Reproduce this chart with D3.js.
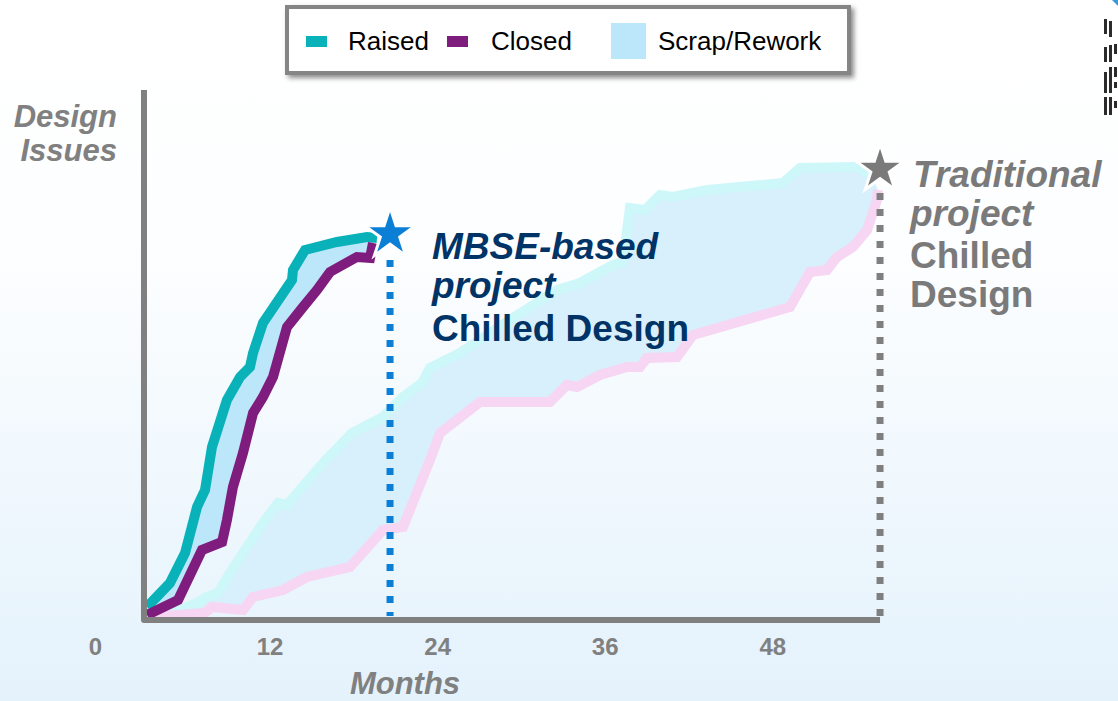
<!DOCTYPE html>
<html><head><meta charset="utf-8">
<script src="https://cdn.jsdelivr.net/npm/d3@7"></script>
<style>html,body{margin:0;padding:0;overflow:hidden;background:#fff}svg{display:block;font-family:"Liberation Sans",Arial,Helvetica,sans-serif}</style>
</head><body><svg id="chart" width="1118" height="701"></svg>
<script>
// ---- data (months, design issues in relative units) ----
const tickMonths = [0, 12, 24, 36, 48];
const legendLabels = ["Raised", "Closed", "Scrap/Rework"];

const mbseRaisedMonths = [3.37, 5.01, 6.09, 6.95, 7.52, 8.02, 9.09, 10.03, 10.74, 10.96, 11.67, 13.75, 13.82, 14.68, 16.97, 19.12, 19.84];
const mbseRaisedValues = [2.6, 7.4, 13.4, 22.6, 26.0, 34.6, 44.0, 48.6, 50.6, 53.4, 59.4, 68.0, 70.0, 74.0, 75.6, 76.6, 76.4];

const mbseClosedMonths = [3.37, 5.59, 7.30, 8.74, 9.09, 9.52, 10.24, 10.96, 11.67, 12.39, 13.39, 14.54, 15.54, 16.47, 18.40, 19.34, 19.55];
const mbseClosedValues = [1.0, 4.0, 14.0, 15.6, 20.0, 26.6, 33.4, 41.4, 44.6, 48.6, 58.6, 62.6, 66.0, 69.6, 72.6, 72.4, 75.4];

const tradRaisedMonths = [3.58, 5.23, 6.95, 7.66, 8.45, 9.31, 10.53, 11.67, 12.75, 13.39, 15.97, 18.05, 20.27, 21.70, 23.06, 23.63, 25.78, 29.36, 32.73, 34.37, 36.74, 37.45, 37.95, 39.03, 40.10, 41.03, 43.47, 48.91, 50.13, 54.21, 55.28];
const tradRaisedValues = [1.0, 1.4, 3.4, 4.6, 5.4, 9.4, 14.6, 19.4, 23.4, 23.0, 31.4, 37.4, 40.6, 44.6, 47.4, 50.4, 53.4, 60.0, 66.0, 67.4, 71.0, 71.6, 82.4, 82.0, 85.0, 84.6, 86.0, 87.4, 90.4, 90.6, 89.0];

const tradClosedMonths = [3.58, 7.52, 8.02, 10.24, 10.96, 13.10, 14.82, 17.90, 20.27, 21.70, 23.63, 24.35, 27.21, 32.22, 33.44, 34.16, 35.81, 37.74, 38.67, 39.17, 41.32, 42.47, 49.41, 50.84, 52.06, 52.78, 53.92, 54.93, 55.64, 55.71];
const tradClosedValues = [0.6, 1.4, 2.6, 2.0, 4.6, 6.0, 8.6, 10.6, 18.0, 18.6, 32.0, 37.4, 43.6, 43.6, 47.0, 46.6, 49.0, 50.6, 50.6, 52.4, 52.6, 57.0, 62.6, 69.6, 70.0, 72.6, 74.6, 78.0, 84.0, 86.0];

const mbseChill = {month: 20.77, value: 77.2};
const tradChill = {month: 55.86, value: 90.2};
const axisStartMonth = 3.15;
const axisTopValue = 106;

// ---- setup ----
const W = 1118, H = 701;
const svg = d3.select("#chart");
const x = d3.scaleLinear().domain([0, 56]).range([100, 882]);
const y = d3.scaleLinear().domain([0, 100]).range([620, 120]);

const defs = svg.append("defs");
const bg = defs.append("linearGradient").attr("id", "bg").attr("x1", 0).attr("y1", 0).attr("x2", 0).attr("y2", 1);
bg.append("stop").attr("offset", "0%").attr("stop-color", "#ffffff");
bg.append("stop").attr("offset", "35%").attr("stop-color", "#fdfeff");
bg.append("stop").attr("offset", "100%").attr("stop-color", "#e4f2fc");
const sh = defs.append("filter").attr("id", "shadow").attr("x", "-5%").attr("y", "-20%").attr("width", "115%").attr("height", "150%");
sh.append("feDropShadow").attr("dx", 3).attr("dy", 3).attr("stdDeviation", 2.5).attr("flood-color", "#000").attr("flood-opacity", 0.45);

svg.append("rect").attr("width", W).attr("height", H).attr("fill", "url(#bg)");

const zip = (ms, vs) => ms.map((m, i) => ({m, v: vs[i]}));
const mbseRaised = zip(mbseRaisedMonths, mbseRaisedValues);
const mbseClosed = zip(mbseClosedMonths, mbseClosedValues);
const tradRaised = zip(tradRaisedMonths, tradRaisedValues);
const tradClosed = zip(tradClosedMonths, tradClosedValues);

const line = d3.line().x(d => x(d.m)).y(d => y(d.v));
const band = (a, b) => line(a.concat(b.slice().reverse())) + "Z";

// traditional project
svg.append("path").attr("d", band(tradRaised, tradClosed)).attr("fill", "#d8effc");
svg.append("path").attr("d", line(tradRaised)).attr("fill", "none").attr("stroke", "#cdf7f9").attr("stroke-width", 10).attr("stroke-linejoin", "miter");
svg.append("path").attr("d", line(tradClosed)).attr("fill", "none").attr("stroke", "#f6d6f2").attr("stroke-width", 10).attr("stroke-linejoin", "miter");

// MBSE project
svg.append("path").attr("d", band(mbseRaised, mbseClosed)).attr("fill", "#bce6f9");
svg.append("path").attr("d", line(mbseRaised)).attr("fill", "none").attr("stroke", "#09b1b8").attr("stroke-width", 10).attr("stroke-linejoin", "miter");
svg.append("path").attr("d", line(mbseClosed)).attr("fill", "none").attr("stroke", "#7f1d7e").attr("stroke-width", 10).attr("stroke-linejoin", "miter");

// dotted drop lines
svg.append("line").attr("x1", x(mbseChill.month)).attr("x2", x(mbseChill.month))
  .attr("y1", y(mbseChill.value) + 26).attr("y2", y(0) - 4)
  .attr("stroke", "#0b7fd6").attr("stroke-width", 7).attr("stroke-dasharray", "7 9");
svg.append("line").attr("x1", x(tradChill.month)).attr("x2", x(tradChill.month))
  .attr("y1", y(tradChill.value) + 24).attr("y2", y(0) - 4)
  .attr("stroke", "#7f7f7f").attr("stroke-width", 7).attr("stroke-dasharray", "7 9");

// stars
const star = d3.symbol().type(d3.symbolStar);
svg.append("path").attr("d", star.size(800)()).attr("transform", `translate(${x(mbseChill.month)},${y(mbseChill.value)})`)
  .attr("fill", "#0b7fd6").attr("stroke", "#fff").attr("stroke-width", 3);
svg.append("path").attr("d", star.size(720)()).attr("transform", `translate(${x(tradChill.month)},${y(tradChill.value)})`)
  .attr("fill", "#7a7a7a").attr("stroke", "#fff").attr("stroke-width", 3);

// axes
const axisCol = "#808080";
svg.append("path")
  .attr("d", `M${x(axisStartMonth)},${y(axisTopValue)}V${y(0)}H${x(tradChill.month)}`)
  .attr("fill", "none").attr("stroke", axisCol).attr("stroke-width", 6).attr("stroke-linejoin", "round");

const xAxis = svg.append("g").attr("transform", `translate(0,${y(0) + 8})`)
  .call(d3.axisBottom(x).tickValues(tickMonths).tickSize(0).tickPadding(10).tickFormat(d3.format("d")));
xAxis.select(".domain").remove();
xAxis.selectAll("text").attr("fill", axisCol).attr("font-size", 24).attr("font-weight", "bold")
  .attr("font-family", "'Liberation Sans',Arial,sans-serif").attr("dx", d => d === 0 ? -5 : 2);

svg.append("text").attr("x", 405).attr("y", 694).attr("text-anchor", "middle")
  .attr("fill", axisCol).attr("font-size", 31).attr("font-weight", "bold").attr("font-style", "italic").text("Months");
const yl = svg.append("text").attr("text-anchor", "end").attr("fill", axisCol)
  .attr("font-size", 31).attr("font-weight", "bold").attr("font-style", "italic");
yl.append("tspan").attr("x", 117).attr("y", 127).text("Design");
yl.append("tspan").attr("x", 117).attr("y", 161).text("Issues");

// annotations
const mt = svg.append("g").attr("fill", "#003366").attr("font-weight", "bold");
mt.append("text").attr("x", 432).attr("y", 259).attr("font-size", 37).attr("font-style", "italic").text("MBSE-based");
mt.append("text").attr("x", 432).attr("y", 298).attr("font-size", 37).attr("font-style", "italic").text("project");
mt.append("text").attr("x", 432).attr("y", 341).attr("font-size", 37).text("Chilled Design");

const tt = svg.append("g").attr("fill", "#7a7a7a").attr("font-weight", "bold");
tt.append("text").attr("x", 913).attr("y", 187).attr("font-size", 37).attr("font-style", "italic").text("Traditional");
tt.append("text").attr("x", 910).attr("y", 226).attr("font-size", 37).attr("font-style", "italic").text("project");
tt.append("text").attr("x", 910).attr("y", 268).attr("font-size", 37).text("Chilled");
tt.append("text").attr("x", 910).attr("y", 307).attr("font-size", 37).text("Design");

// legend
const lg = svg.append("g");
lg.append("rect").attr("x", 287).attr("y", 7).attr("width", 562).attr("height", 66)
  .attr("fill", "#fff").attr("stroke", "#858585").attr("stroke-width", 4).attr("filter", "url(#shadow)");
const legendItems = [
  {label: legendLabels[0], color: "#09b1b8", sx: 306, sy: 36, sw: 21, sh: 11, tx: 348},
  {label: legendLabels[1], color: "#7f1d7e", sx: 447, sy: 36, sw: 21, sh: 11, tx: 491},
  {label: legendLabels[2], color: "#bce6f9", sx: 611, sy: 23, sw: 35, sh: 36, tx: 658}
];
legendItems.forEach(it => {
  lg.append("rect").attr("x", it.sx).attr("y", it.sy).attr("width", it.sw).attr("height", it.sh).attr("fill", it.color);
  lg.append("text").attr("x", it.tx).attr("y", 50).attr("font-size", 26).attr("fill", "#000").text(it.label);
});

// partial logo at top right (decoration)
const logoBars = [
  [1104, 19, 3, 15], [1109, 21, 3, 16], [1104, 47, 3, 15], [1109, 45, 3, 17], [1114, 44, 3, 10],
  [1104, 72, 3, 21], [1109, 67, 3, 26], [1114, 67, 3, 10], [1114, 82, 3, 6],
  [1104, 97, 3, 18], [1109, 97, 3, 18], [1114, 101, 3, 7]
];
svg.append("g").selectAll("rect").data(logoBars).join("rect")
  .attr("x", d => d[0]).attr("y", d => d[1]).attr("width", d => d[2]).attr("height", d => d[3]).attr("fill", "#2b2b2b");
svg.append("path").attr("d", "M1112,0H1118V6Z").attr("fill", "#3a9ad8");
</script></body></html>
